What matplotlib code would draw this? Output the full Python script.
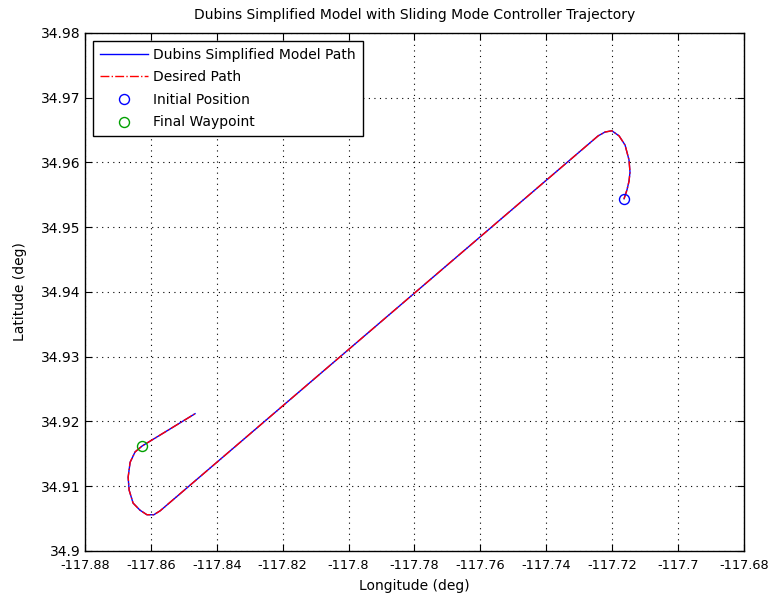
import matplotlib
matplotlib.use("Agg")
import matplotlib.pyplot as plt
from matplotlib.ticker import FixedLocator, FixedFormatter

# Trajectory data (longitude, latitude in degrees)
path_lon = [-117.7164, -117.7155, -117.7149, -117.7146, -117.7149, -117.7161,
            -117.7179, -117.7201, -117.7222, -117.7243, -117.8572, -117.8591,
            -117.8612, -117.8633, -117.8654, -117.8666, -117.8669, -117.8663,
            -117.8648, -117.8627, -117.8466]
path_lat = [34.9544, 34.9558, 34.9571, 34.9585, 34.9604, 34.9627,
            34.9641, 34.9649, 34.9647, 34.9641, 34.9062, 34.9056,
            34.9056, 34.9063, 34.9074, 34.9094, 34.9114, 34.9137,
            34.9153, 34.9162, 34.9212]
desired_lon = path_lon
desired_lat = path_lat
initial_pos = (-117.7164, 34.9544)
final_wp = (-117.8627, 34.9162)

xticks = [-117.88, -117.86, -117.84, -117.82, -117.8, -117.78, -117.76,
          -117.74, -117.72, -117.7, -117.68]
xtick_labels = ["-117.88", "-117.86", "-117.84", "-117.82", "-117.8", "-117.78",
                "-117.76", "-117.74", "-117.72", "-117.7", "-117.68"]
yticks = [34.9, 34.91, 34.92, 34.93, 34.94, 34.95, 34.96, 34.97, 34.98]
ytick_labels = ["34.9", "34.91", "34.92", "34.93", "34.94", "34.95", "34.96",
                "34.97", "34.98"]

plt.rcParams['font.family'] = ['DejaVu Sans']
fig = plt.figure(figsize=(7.69, 6.01), dpi=100)
ax = fig.add_axes([0.1105, 0.0832, 0.857, 0.8619])

ax.plot(path_lon, path_lat, color='#0000ff', lw=1.0, label='Dubins Simplified Model Path')
ax.plot(desired_lon, desired_lat, color='#ff0000', lw=1.0, ls='-.', label='Desired Path')
ax.plot([initial_pos[0]], [initial_pos[1]], 'o', mfc='none', mec='#0000ff', ms=7.2,
        mew=1.0, ls='none', label='Initial Position')
ax.plot([final_wp[0]], [final_wp[1]], 'o', mfc='none', mec='#00a000', ms=7.2,
        mew=1.0, ls='none', label='Final Waypoint')

ax.set_xlim(-117.88, -117.68)
ax.set_ylim(34.9, 34.98)
ax.xaxis.set_major_locator(FixedLocator(xticks))
ax.xaxis.set_major_formatter(FixedFormatter(xtick_labels))
ax.yaxis.set_major_locator(FixedLocator(yticks))
ax.yaxis.set_major_formatter(FixedFormatter(ytick_labels))
ax.tick_params(direction='in', top=True, right=True, length=5)
ax.tick_params(axis='x', pad=6, labelsize=9.3)
ax.tick_params(axis='y', pad=3, labelsize=10)
ax.grid(True, color='black', ls=(0, (1, 4)), lw=0.8)
for s in ax.spines.values():
    s.set_linewidth(1.0)

ax.set_xlabel('Longitude (deg)', fontsize=10, labelpad=5)
ax.set_ylabel('Latitude (deg)', fontsize=10, labelpad=10)
ax.set_title('Dubins Simplified Model with Sliding Mode Controller Trajectory',
             fontsize=10, pad=10)

leg = ax.legend(loc='upper left', fontsize=10, frameon=True, fancybox=False,
                edgecolor='black', framealpha=1, borderaxespad=0.55,
                handlelength=3.5, handletextpad=0.35, labelspacing=0.62,
                borderpad=0.5)
leg.get_frame().set_linewidth(1.0)

fig.savefig('out.png', dpi=100)
